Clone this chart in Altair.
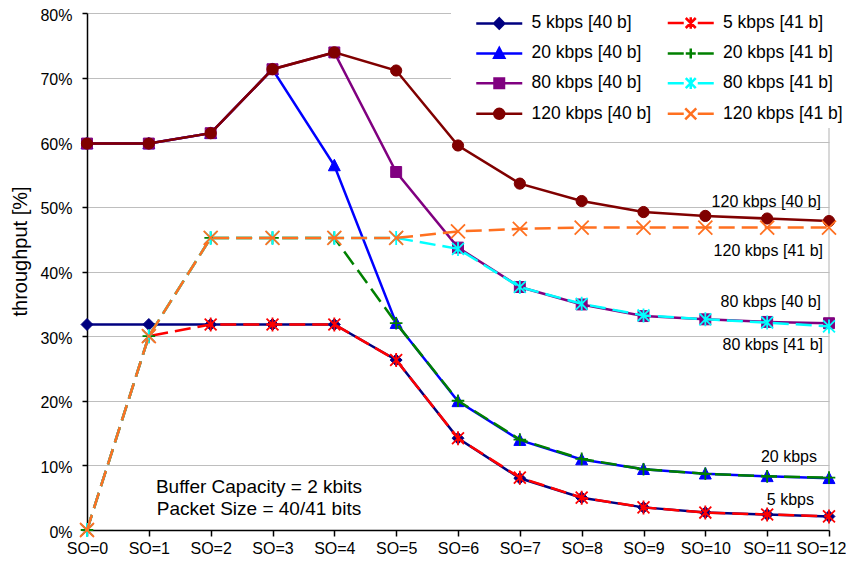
import altair as alt
import pandas as pd

# ---------------- data ----------------
so_labels = ["SO=0", "SO=1", "SO=2", "SO=3", "SO=4", "SO=5", "SO=6",
             "SO=7", "SO=8", "SO=9", "SO=10", "SO=11", "SO=12"]

series_names = ["5 kbps [40 b]", "5 kbps [41 b]",
                "20 kbps [40 b]", "20 kbps [41 b]",
                "80 kbps [40 b]", "80 kbps [41 b]",
                "120 kbps [40 b]", "120 kbps [41 b]"]

tp_5_40 = [31.8, 31.8, 31.8, 31.8, 31.8, 26.3, 14.2, 8.0, 5.0, 3.5, 2.7, 2.4, 2.1]
tp_5_41 = [0.0, 30.0, 31.8, 31.8, 31.8, 26.3, 14.2, 8.1, 5.0, 3.5, 2.7, 2.4, 2.1]
tp_20_40 = [59.8, 59.8, 61.4, 71.3, 56.4, 32.0, 19.9, 13.9, 10.9, 9.4, 8.7, 8.3, 8.0]
tp_20_41 = [0.0, 30.0, 45.2, 45.2, 45.2, 32.0, 20.0, 14.0, 11.0, 9.4, 8.7, 8.3, 8.1]
tp_80_40 = [59.8, 59.8, 61.4, 71.3, 73.9, 55.4, 43.7, 37.6, 34.9, 33.1, 32.6, 32.2, 32.0]
tp_80_41 = [0.0, 30.0, 45.2, 45.2, 45.2, 45.2, 43.5, 37.6, 35.0, 33.2, 32.6, 32.1, 31.5]
tp_120_40 = [59.8, 59.8, 61.4, 71.3, 73.9, 71.1, 59.5, 53.6, 50.9, 49.2, 48.6, 48.2, 47.8]
tp_120_41 = [0.0, 30.0, 45.2, 45.2, 45.2, 45.2, 46.2, 46.6, 46.8, 46.8, 46.8, 46.8, 46.8]

all_series = [tp_5_40, tp_5_41, tp_20_40, tp_20_41, tp_80_40, tp_80_41, tp_120_40, tp_120_41]

note_texts = ["120 kbps [40 b]", "120 kbps [41 b]", "80 kbps [40 b]",
              "80 kbps [41 b]", "20 kbps", "5 kbps"]
note_y = [50.8, 43.1, 35.3, 28.6, 11.3, 4.6]

box_texts = ["Buffer Capacity = 2 kbits", "Packet Size = 40/41 bits"]

# ---------------- styles ----------------
FONT = "Liberation Sans"
colors = ["#000080", "#FF0000", "#0000FF", "#008000",
          "#800080", "#00FFFF", "#800000", "#FF7020"]
dashed = [False, True, False, True, False, True, False, True]
filled = [True, False, True, False, True, False, True, False]

mk_plot = [
    "M0,-0.85L0.85,0L0,0.85L-0.85,0Z",
    "M-0.85,-0.85L0.85,0.85M-0.85,0.85L0.85,-0.85M0,-1L0,1",
    "M0,-0.9L0.85,0.75L-0.85,0.75Z",
    "M-0.9,0L0.9,0M0,-0.9L0,0.9",
    "M-0.78,-0.78L0.78,-0.78L0.78,0.78L-0.78,0.78Z",
    "M-0.85,-0.85L0.85,0.85M-0.85,0.85L0.85,-0.85M0,-1L0,1",
    "M0.8,0A0.8,0.8,0,1,1,-0.8,0A0.8,0.8,0,1,1,0.8,0Z",
    "M-1,-1L1,1M-1,1L1,-1",
]

full_line = "M-4.6,0L4.6,0"
split_line = "M-4.6,0L-1.4,0M1.4,0L4.6,0"
mk_legend = [
    full_line + "M0,-1L1,0L0,1L-1,0Z",
    split_line + "M-1,-1L1,1M-1,1L1,-1M0,-1.15L0,1.15",
    full_line + "M0,-1.05L1,0.85L-1,0.85Z",
    split_line + "M-1,0L1,0M0,-1L0,1",
    full_line + "M-0.95,-0.95L0.95,-0.95L0.95,0.95L-0.95,0.95Z",
    split_line + "M-1,-1L1,1M-1,1L1,-1M0,-1.15L0,1.15",
    full_line + "M1,0A1,1,0,1,1,-1,0A1,1,0,1,1,1,0Z",
    split_line + "M-1.1,-1.1L1.1,1.1M-1.1,1.1L1.1,-1.1",
]
legend_fills = [c if f else "transparent" for c, f in zip(colors, filled)]

# legend fills column by column: first all [40 b], then all [41 b]
leg_idx = [0, 2, 4, 6, 1, 3, 5, 7]
leg_domain = [series_names[k] for k in leg_idx]
leg_shapes = [mk_legend[k] for k in leg_idx]
leg_strokes = [colors[k] for k in leg_idx]
leg_fills = [legend_fills[k] for k in leg_idx]

# ---------------- table ----------------
rows = []
for name, vals in zip(series_names, all_series):
    for so, v in zip(so_labels, vals):
        rows.append({"series": name, "so": so, "tp": v})
df = pd.DataFrame(rows)

last_test = "datum.value === 'SO=12'"
x_enc = alt.X(
    "so:O",
    scale=alt.Scale(type="point", domain=so_labels, padding=0),
    axis=alt.Axis(title=None, labelAngle=0, labelFontSize=16, labelFont=FONT,
                  labelColor="black", labelPadding=4, tickSize=6,
                  labelAlign={"condition": {"test": last_test, "value": "right"},
                              "value": "center"},
                  labelOffset={"condition": {"test": last_test, "value": 17},
                               "value": 0},
                  tickColor="black", tickWidth=1.5, domainColor="black",
                  domainWidth=1.5, grid=False),
)
y_enc = alt.Y(
    "tp:Q",
    scale=alt.Scale(domain=[0, 80], nice=False, zero=True),
    axis=alt.Axis(values=list(range(0, 81, 10)), labelExpr="datum.value + '%'",
                  title="throughput [%]", titleFontSize=20, titleFont=FONT,
                  titleFontWeight="normal", titleColor="black", titleAngle=270,
                  titleX=-67, titleY=238, titleAlign="center",
                  titleBaseline="middle",
                  labelFontSize=16, labelFont=FONT, labelColor="black",
                  labelPadding=10, labelOffset=2, tickSize=5, tickColor="black",
                  tickWidth=1.5, domainColor="black", domainWidth=1.5,
                  grid=True, gridColor="#BEBEBE", gridWidth=1.2),
)

base = alt.Chart(df)

layers = []

# right plot-area border
border = alt.Chart(pd.DataFrame({"a": [0]})).mark_rule(
    color="#BEBEBE", strokeWidth=1.2
).encode(x=alt.value(742), y=alt.value(112), y2=alt.value(517))
layers.append(border)

# legend background
legend_bg = alt.Chart(pd.DataFrame({"a": [0]})).mark_rect(
    color="white"
).encode(x=alt.value(364), x2=alt.value(760), y=alt.value(-13), y2=alt.value(115))
layers.append(legend_bg)

for i, name in enumerate(series_names):
    src = base.transform_filter(alt.datum.series == name)
    line_kw = dict(color=colors[i], strokeWidth=2.5, opacity=1)
    if dashed[i]:
        line_kw["strokeDash"] = [16, 7]
    layers.append(src.mark_line(**line_kw).encode(x=x_enc, y=y_enc))
    if filled[i]:
        pt = src.mark_point(shape=mk_plot[i], size=196, filled=True,
                            color=colors[i], stroke=colors[i], strokeWidth=1,
                            opacity=1)
    else:
        pt = src.mark_point(shape=mk_plot[i], size=196, filled=False,
                            color=colors[i], strokeWidth=1.8, opacity=1)
    layers.append(pt.encode(x=x_enc, y=y_enc))

# right-side annotations
note_dx = [-8, -6, -8, -6, -12, -15]
for t, yv, dx in zip(note_texts, note_y, note_dx):
    ndf = pd.DataFrame({"so": ["SO=12"], "tp": [yv], "label": [t]})
    layers.append(
        alt.Chart(ndf).mark_text(align="right", baseline="middle", dx=dx,
                                 fontSize=16, font=FONT, color="black")
        .encode(x=x_enc, y=y_enc, text="label:N")
    )

# buffer / packet size box text
for j, t in enumerate(box_texts):
    bdf = pd.DataFrame({"label": [t]})
    layers.append(
        alt.Chart(bdf).mark_text(align="center", baseline="middle",
                                 fontSize=19, font=FONT, color="black")
        .encode(x=alt.value(172), y=alt.value(474 + 22 * j), text="label:N")
    )

# legend-only layer
legend_kw = dict(title=None, orient="none", legendX=403.5, legendY=1,
                 columns=2, symbolSize=100, symbolStrokeWidth=2.5,
                 symbolOpacity=1, labelFontSize=17.5, labelFont=FONT,
                 labelColor="black", labelOffset=23.5, columnPadding=10.5,
                 rowPadding=8.7, padding=0, labelLimit=300)
legend_layer = base.transform_filter("false").mark_point(opacity=1, size=100).encode(
    x=x_enc, y=y_enc,
    shape=alt.Shape("series:N", scale=alt.Scale(domain=leg_domain, range=leg_shapes),
                    legend=alt.Legend(**legend_kw)),
    stroke=alt.Stroke("series:N", scale=alt.Scale(domain=leg_domain, range=leg_strokes),
                      legend=alt.Legend(**legend_kw)),
    fill=alt.Fill("series:N", scale=alt.Scale(domain=leg_domain, range=leg_fills),
                  legend=alt.Legend(**legend_kw)),
)
layers.append(legend_layer)

chart = alt.layer(*layers).properties(
    width=742, height=517,
    padding={"left": 79, "top": 5, "right": 17, "bottom": 28},
    autosize=alt.AutoSizeParams(type="none"),
    background="white",
).configure_view(stroke="transparent")

chart.save("out.html", embed_options={"renderer": "svg", "actions": False})
